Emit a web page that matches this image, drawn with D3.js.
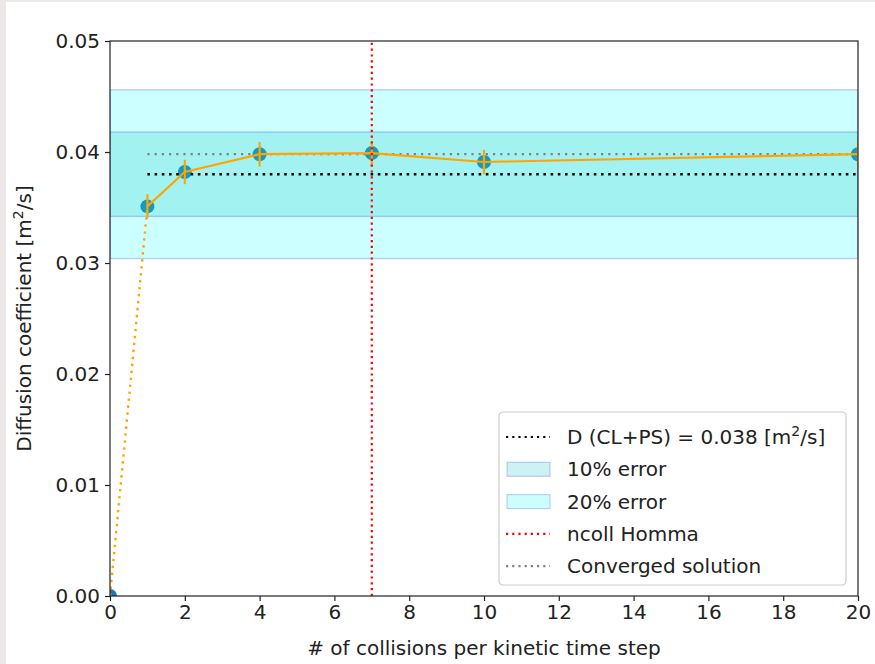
<!DOCTYPE html>
<html>
<head>
<meta charset="utf-8">
<script src="https://cdn.jsdelivr.net/npm/d3@7"></script>
<style>
  html, body { margin: 0; padding: 0; background: #ede8e8; }
  svg { display: block; font-family: "DejaVu Sans", sans-serif; }
</style>
</head>
<body>
<script>
// diffusion coefficient vs ncoll
const ncoll = [0, 1, 2, 4, 7, 10, 20];
const diffCoef = [0, 0.0351, 0.0382, 0.0398, 0.0399, 0.0391, 0.0398];
const diffErr = [0, 0.0011, 0.0011, 0.0011, 0.0011, 0.0011, 0.0011];
const D_ref = 0.038;
const D_conv = 0.0398;
const ncollHomma = 7;
const xTicks = [0, 2, 4, 6, 8, 10, 12, 14, 16, 18, 20];
const yTicks = [0, 0.01, 0.02, 0.03, 0.04, 0.05];

const W = 875, H = 664;
const margin = { left: 110, right: 17, top: 41, bottom: 68 };
const FS = 20;

const svg = d3.select("body").append("svg")
    .attr("width", W).attr("height", H);

// white canvas with a thin gray strip left/top
svg.append("rect").attr("x", 6).attr("y", 2).attr("width", W - 6).attr("height", H - 2)
    .attr("fill", "#fff");

const x = d3.scaleLinear().domain([0, 20]).range([margin.left, W - margin.right]);
const y = d3.scaleLinear().domain([0, 0.05]).range([H - margin.bottom, margin.top]);

svg.append("clipPath").attr("id", "clip")
    .append("rect")
    .attr("x", x(0)).attr("y", y(0.05))
    .attr("width", x(20) - x(0)).attr("height", y(0) - y(0.05));

const plot = svg.append("g").attr("clip-path", "url(#clip)");

// scatter points (under the bands)
plot.selectAll("circle.pt")
    .data(ncoll.map((n, i) => ({ n, d: diffCoef[i] })))
    .join("circle")
    .attr("class", "pt")
    .attr("cx", d => x(d.n)).attr("cy", d => y(d.d))
    .attr("r", 7)
    .attr("fill", "#1f77b4");

// error bands
const bands = [
    { lo: D_ref * 0.8, hi: D_ref * 1.2, fill: "rgba(0,255,255,0.2)" },
    { lo: D_ref * 0.9, hi: D_ref * 1.1, fill: "rgba(0,191,191,0.2)" },
];
bands.forEach(b => {
    plot.append("rect")
        .attr("x", x(0)).attr("width", x(20) - x(0))
        .attr("y", y(b.hi)).attr("height", y(b.lo) - y(b.hi))
        .attr("fill", b.fill)
        .attr("stroke", "rgba(0,0,255,0.2)").attr("stroke-width", 1.4);
});

// reference lines
plot.append("line")
    .attr("x1", x(1)).attr("x2", x(20)).attr("y1", y(D_ref)).attr("y2", y(D_ref))
    .attr("stroke", "#000").attr("stroke-width", 2.6).attr("stroke-dasharray", "2.6,4.6");
plot.append("line")
    .attr("x1", x(1)).attr("x2", x(20)).attr("y1", y(D_conv)).attr("y2", y(D_conv))
    .attr("stroke", "#808080").attr("stroke-width", 2.2).attr("stroke-dasharray", "2.2,5");

// dotted segment 0 -> 1
plot.append("line")
    .attr("x1", x(ncoll[0])).attr("y1", y(diffCoef[0]))
    .attr("x2", x(ncoll[1])).attr("y2", y(diffCoef[1]))
    .attr("stroke", "#ffa500").attr("stroke-width", 2.4).attr("stroke-dasharray", "2.4,4.6");

// solid errorbar line from n=1
const solid = ncoll.map((n, i) => ({ n, d: diffCoef[i], e: diffErr[i] })).slice(1);
plot.append("path")
    .datum(solid)
    .attr("fill", "none")
    .attr("stroke", "#ffa500").attr("stroke-width", 2.2)
    .attr("d", d3.line().x(d => x(d.n)).y(d => y(d.d)));
plot.selectAll("line.err")
    .data(solid)
    .join("line")
    .attr("class", "err")
    .attr("x1", d => x(d.n)).attr("x2", d => x(d.n))
    .attr("y1", d => y(d.d - d.e)).attr("y2", d => y(d.d + d.e))
    .attr("stroke", "#ffa500").attr("stroke-width", 2.2);

// ncoll Homma
plot.append("line")
    .attr("x1", x(ncollHomma)).attr("x2", x(ncollHomma))
    .attr("y1", y(0)).attr("y2", y(0.05))
    .attr("stroke", "#ff0000").attr("stroke-width", 2.2).attr("stroke-dasharray", "2.2,3.6");

// axes
const xAxis = svg.append("g")
    .attr("transform", `translate(0,${y(0)})`)
    .call(d3.axisBottom(x).tickValues(xTicks).tickSize(5).tickPadding(4).tickFormat(d3.format("d")));
const yAxis = svg.append("g")
    .attr("transform", `translate(${x(0)},0)`)
    .call(d3.axisLeft(y).tickValues(yTicks).tickSize(5).tickPadding(5).tickFormat(d3.format(".2f")));
[xAxis, yAxis].forEach(a => {
    a.attr("font-size", null).attr("font-family", null);
    a.select(".domain").remove();
    a.selectAll("text").style("font-size", FS + "px").attr("fill", "#222");
    a.selectAll("line").attr("stroke", "#222").attr("stroke-width", 1.2);
});

// frame
svg.append("rect")
    .attr("x", x(0)).attr("y", y(0.05))
    .attr("width", x(20) - x(0)).attr("height", y(0) - y(0.05))
    .attr("fill", "none").attr("stroke", "#222").attr("stroke-width", 1.2);

// axis labels
svg.append("text")
    .attr("x", (x(0) + x(20)) / 2).attr("y", 655)
    .attr("text-anchor", "middle").style("font-size", FS + "px").attr("fill", "#222")
    .text("# of collisions per kinetic time step");
const yl = svg.append("text")
    .attr("transform", `translate(31,${(y(0) + y(0.05)) / 2}) rotate(-90)`)
    .attr("text-anchor", "middle").style("font-size", FS + "px").attr("fill", "#222");
yl.append("tspan").text("Diffusion coefficient [m");
yl.append("tspan").style("font-size", "14px").attr("dy", -8).text("2");
yl.append("tspan").attr("dy", 8).text("/s]");

// legend
const lg = svg.append("g").attr("transform", "translate(499,412)");
lg.append("rect")
    .attr("width", 347).attr("height", 173).attr("rx", 4)
    .attr("fill", "rgba(255,255,255,0.85)").attr("stroke", "#ccc").attr("stroke-width", 1.2);
const legendItems = [
    { type: "line", color: "#000", label: ["D (CL+PS) = 0.038 [m", "2", "/s]"] },
    { type: "patch", fill: "#ccf2f2", label: ["10% error"] },
    { type: "patch", fill: "#ccffff", label: ["20% error"] },
    { type: "line", color: "#ff0000", label: ["ncoll Homma"] },
    { type: "line", color: "#808080", label: ["Converged solution"] },
];
legendItems.forEach((it, i) => {
    const cy = 25 + i * 32.3;
    if (it.type === "line") {
        lg.append("line").attr("x1", 7).attr("x2", 51).attr("y1", cy).attr("y2", cy)
            .attr("stroke", it.color).attr("stroke-width", 2.2).attr("stroke-dasharray", "2.2,4");
    } else {
        lg.append("rect").attr("x", 8).attr("y", cy - 7).attr("width", 43).attr("height", 14)
            .attr("fill", it.fill).attr("stroke", "rgba(0,0,255,0.2)").attr("stroke-width", 1.2);
    }
    const t = lg.append("text").attr("x", 68).attr("y", cy + 7)
        .style("font-size", FS + "px").attr("fill", "#222");
    t.append("tspan").text(it.label[0]);
    if (it.label.length > 1) {
        t.append("tspan").style("font-size", "14px").attr("dy", -8).text(it.label[1]);
        t.append("tspan").attr("dy", 8).text(it.label[2]);
    }
});
</script>
</body>
</html>
